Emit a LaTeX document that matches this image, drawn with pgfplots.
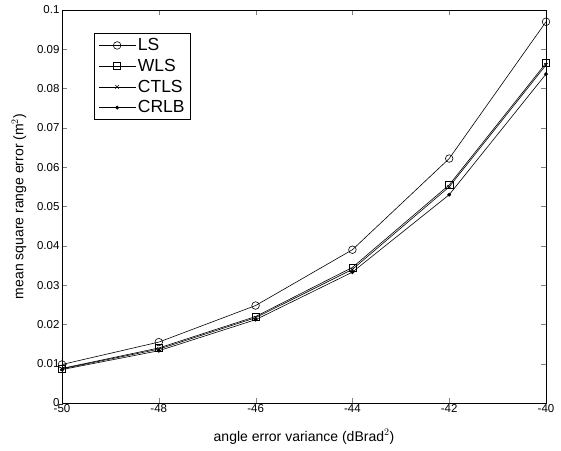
\documentclass[border=0pt]{standalone}
\usepackage{pgfplots}
\pgfplotsset{compat=1.18}
\usepackage{fontspec}
\setmainfont{Liberation Sans}

\begin{document}
\begin{tikzpicture}
\path[use as bounding box] (-62pt,-47pt) rectangle (499pt,403pt);
\begin{axis}[
    at={(0pt,0pt)}, anchor=south west,
    scale only axis,
    width=484pt,
    height=393pt,
    xmin=-50, xmax=-40,
    ymin=0, ymax=0.1,
    xtick={-50,-48,...,-40},
    ytick={0,0.01,...,0.1},
    tick pos=both,
    tick align=inside,
    major tick length=5pt,
    scaled y ticks=false,
    yticklabel style={/pgf/number format/fixed, /pgf/number format/precision=2, xshift=1pt},
    xticklabel style={yshift=2pt},
    /pgf/number format/assume math mode=true,
    tick label style={font=\fontsize{11.5}{13}\selectfont},
    label style={font=\fontsize{14}{16}\selectfont},
    xlabel={angle error variance (dBrad$^2$)},
    ylabel={mean square range error (m$^2$)},
    xlabel style={yshift=-10pt},
    ylabel style={yshift=4pt},
    axis line style={line width=0.9pt},
    every axis plot/.append style={black, line width=0.6pt},
    legend style={at={(0.066,0.941)}, anchor=north west, font=\fontsize{17.5}{20}\selectfont,
        draw=black, line width=0.8pt, inner xsep=4pt, inner ysep=3pt, row sep=3pt,
        legend cell align=left},
    legend image code/.code={
        \draw[mark repeat=2,mark phase=2,#1] plot coordinates {(0pt,0pt) (18.5pt,0pt) (37pt,0pt)};},
]
\addplot[mark=o, mark size=3.8pt] coordinates {
    (-50,0.0098) (-48,0.0155) (-46,0.0248) (-44,0.0390) (-42,0.0622) (-40,0.0970)
};
\addlegendentry{LS}
\addplot[mark=square, mark size=3.6pt] coordinates {
    (-50,0.0088) (-48,0.0140) (-46,0.0220) (-44,0.0345) (-42,0.0555) (-40,0.0865)
};
\addlegendentry{WLS}
\addplot[mark=x, mark size=2.5pt] coordinates {
    (-50,0.0087) (-48,0.0137) (-46,0.0217) (-44,0.0340) (-42,0.0550) (-40,0.0860)
};
\addlegendentry{CTLS}
\addplot[mark=*, mark size=1.6pt] coordinates {
    (-50,0.0085) (-48,0.0133) (-46,0.0212) (-44,0.0333) (-42,0.0530) (-40,0.0837)
};
\addlegendentry{CRLB}
\end{axis}
\end{tikzpicture}
\end{document}
